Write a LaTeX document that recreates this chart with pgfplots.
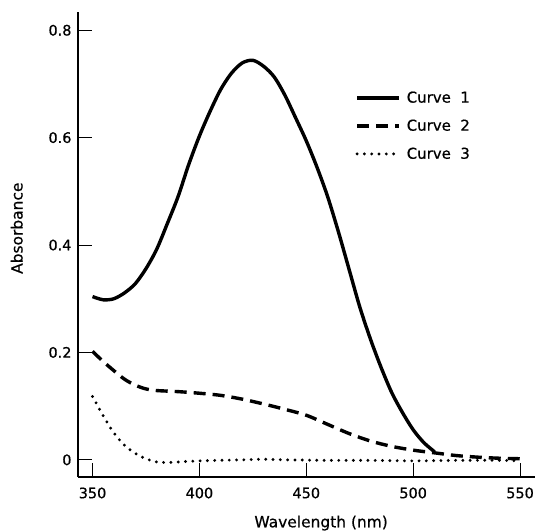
\documentclass[border=0pt]{standalone}
\usepackage{fontspec}
\setmainfont{DejaVu Sans}[FakeBold=0.6]
\usepackage{pgfplots}
\pgfplotsset{compat=1.18}

% absorbance spectra
\pgfplotstableread{
x y
350 0.304
355 0.298
360 0.300
365 0.311
370 0.328
375 0.356
380 0.392
385 0.440
390 0.490
395 0.550
400 0.603
405 0.649
410 0.690
415 0.720
420 0.739
425 0.744
430 0.733
435 0.713
440 0.679
445 0.637
450 0.594
455 0.545
460 0.490
465 0.425
470 0.355
475 0.285
480 0.225
485 0.172
490 0.125
495 0.088
500 0.056
505 0.032
510 0.015
}\curveone

\pgfplotstableread{
x y
350 0.202
355 0.183
360 0.166
365 0.150
370 0.139
375 0.132
380 0.129
390 0.127
400 0.124
410 0.120
420 0.113
430 0.104
440 0.094
450 0.083
460 0.066
470 0.049
480 0.035
490 0.025
500 0.018
510 0.013
520 0.008
530 0.005
540 0.003
550 0.002
}\curvetwo

\pgfplotstableread{
x y
350 0.118
355 0.082
360 0.050
365 0.027
370 0.012
375 0.002
380 -0.004
385 -0.005
390 -0.004
400 -0.002
420 0.000
430 0.001
440 0.000
460 -0.001
480 -0.001
500 -0.002
520 -0.001
540 -0.001
550 -0.002
}\curvethree

\begin{document}
\begin{tikzpicture}
\begin{axis}[
    scale only axis,
    width=457bp, height=465bp,
    xmin=343.2, xmax=557,
    ymin=-0.032, ymax=0.834,
    axis lines=left,
    axis line style={-, line width=2.6bp},
    tick align=inside,
    major tick length=14bp,
    tick style={black, line width=0.9bp},
    xtick={350,400,...,550},
    ytick={0,0.2,...,0.8},
    yticklabels={0,0.2,0.4,0.6,0.8},
    /pgf/number format/assume math mode=true,
    ticklabel style={font=\fontsize{14.5}{16}\selectfont},
    xticklabel style={yshift=-7bp},
    yticklabel style={xshift=-3bp},
    xlabel={Wavelength (nm)},
    ylabel={Absorbance},
    label style={font=\fontsize{15.5}{18}\selectfont},
    xlabel style={at={(axis description cs:0.532,-0.099)}, anchor=center},
    ylabel style={at={(axis description cs:-0.134,0.535)}, anchor=center},
    legend style={draw=none, fill=none, at={(0.6,0.838)}, anchor=north west,
        font=\fontsize{15}{18}\selectfont, row sep=11.5bp},
    legend cell align=left,
    legend image code/.code={\draw[#1] (0bp,0bp) -- (42bp,0bp);},
]
\addplot[black, line width=3.4bp, smooth] table {\curveone};
\addlegendentry{\hspace{4bp}Curve\ \ 1}
\addplot[black, line width=3.4bp, smooth, dash pattern=on 12bp off 7bp] table {\curvetwo};
\addlegendentry{\hspace{4bp}Curve\ \ 2}
\addplot[black, line width=3.2bp, smooth, line cap=round, dash pattern=on 0bp off 7.3bp] table {\curvethree};
\addlegendentry{\hspace{4bp}Curve\ \ 3}
\end{axis}
\pgfresetboundingbox
\path[use as bounding box] (-78bp,-55bp) rectangle (459bp,477bp);
\end{tikzpicture}
\end{document}
